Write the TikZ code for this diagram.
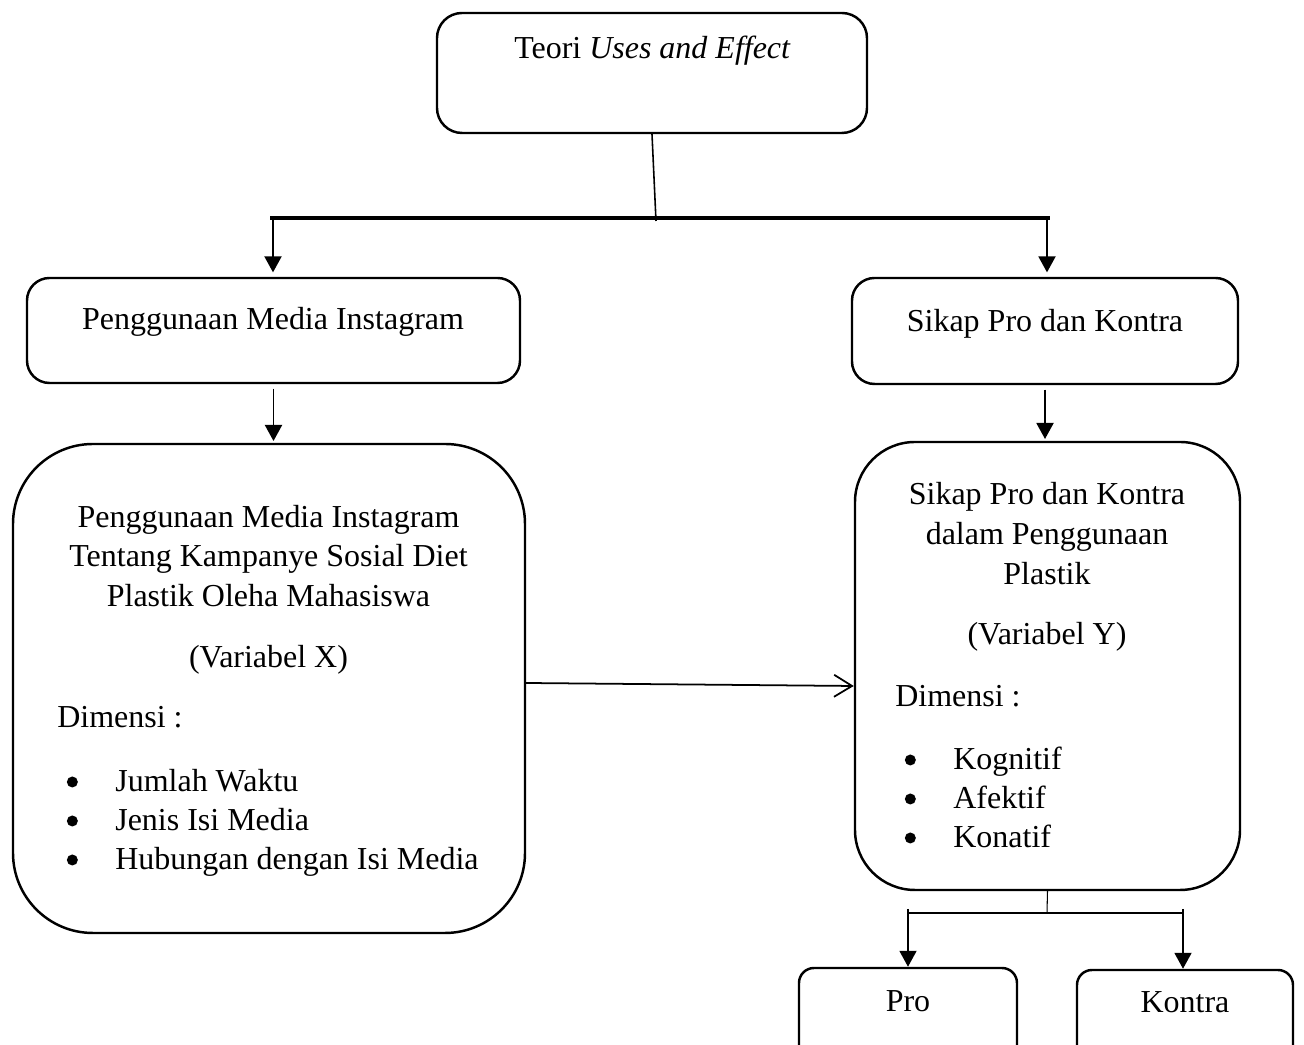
\documentclass[tikz,border=0pt]{standalone}
\usepackage{fontspec}
\setmainfont{Liberation Serif}
\usetikzlibrary{arrows.meta}

\newcommand{\dimbullet}{\makebox[0.97cm][l]{\tikz[baseline=-0.2cm]{\fill (0.11,0) circle (0.11cm);}}}

\begin{document}
\begin{tikzpicture}[
		font=\fontsize{18.2}{22.8}\selectfont,
		box/.style={draw, line width=1.4pt, rounded corners=#1, inner sep=0pt},
		box/.default=0.45cm,
		txt/.style={inner sep=0pt, anchor=base},
		item/.style={inner sep=0pt, anchor=base west},
		arr/.style={line width=1.1pt, -{Triangle[length=0.32cm, width=0.34cm]}},
		branch/.style={line width=0.6pt},
	]
	\useasboundingbox (0,0) rectangle (26.08,20.9);
	\clip (0,0) rectangle (26.08,20.9);

	\node[box=0.5cm, minimum width=8.6cm, minimum height=2.4cm] (teori) at (13.04, 19.44) {};
	\node[txt] (teori-t) at (13.05, 19.72) {Teori \textit{Uses and Effect}};

	\node[box, minimum width=9.86cm, minimum height=2.1cm] (media) at (5.47, 14.29) {};
	\node[txt] (media-t) at (5.46, 14.3) {Penggunaan Media Instagram};
	\node[box, minimum width=7.72cm, minimum height=2.12cm] (sikap) at (20.9, 14.28) {};
	\node[txt] (sikap-t) at (20.9, 14.26) {Sikap Pro dan Kontra};

	% Variabel X
	\node[box=1.6cm, minimum width=10.24cm, minimum height=9.78cm] (varx) at (5.38, 7.13) {};
	\node[txt] (varx-1) at (5.37, 10.34) {Penggunaan Media Instagram};
	\node[txt] (varx-2) at (5.37, 9.56) {Tentang Kampanye Sosial Diet};
	\node[txt] (varx-3) at (5.37, 8.76) {Plastik Oleha Mahasiswa};
	\node[txt] (varx-4) at (5.37, 7.54) {(Variabel X)};
	\node[item] (dimx) at (1.14, 6.34) {Dimensi :};
	\node[item] (dimx-1) at (1.33, 5.06) {\dimbullet Jumlah Waktu};
	\node[item] (dimx-2) at (1.33, 4.28) {\dimbullet Jenis Isi Media};
	\node[item] (dimx-3) at (1.33, 3.50) {\dimbullet Hubungan dengan Isi Media};

	% Variabel Y
	\node[box=1.2cm, minimum width=7.7cm, minimum height=8.96cm] (vary) at (20.95, 7.58) {};
	\node[txt] (vary-1) at (20.94, 10.8) {Sikap Pro dan Kontra};
	\node[txt] (vary-2) at (20.94, 10.0) {dalam Penggunaan};
	\node[txt] (vary-3) at (20.94, 9.2) {Plastik};
	\node[txt] (vary-4) at (20.94, 8.0) {(Variabel Y)};
	\node[item] (dimy) at (17.9, 6.76) {Dimensi :};
	\node[item] (dimy-1) at (18.09, 5.50) {\dimbullet Kognitif};
	\node[item] (dimy-2) at (18.09, 4.72) {\dimbullet Afektif};
	\node[item] (dimy-3) at (18.09, 3.94) {\dimbullet Konatif};

	\node[box=0.3cm, minimum width=4.36cm, minimum height=2.34cm] (pro) at (18.16, 0.37) {};
	\node[txt] (pro-t) at (18.16, 0.66) {Pro};
	\node[box=0.3cm, minimum width=4.32cm, minimum height=2.34cm] (kontra) at (23.7, 0.33) {};
	\node[txt] (kontra-t) at (23.7, 0.64) {Kontra};

	\coordinate (split) at (13.12, 16.48);
	\coordinate (barL) at (5.46, 16.54);
	\coordinate (barR) at (20.94, 16.54);
	\coordinate (fork) at (20.94, 2.64);
	\coordinate (forkL) at (18.16, 2.64);
	\coordinate (forkR) at (23.66, 2.64);

	\draw[line width=0.9pt] (teori.south) -- (split);
	\draw[line width=1.9pt] ([xshift=-0.06cm]barL) -- ([xshift=0.06cm]barR);
	\draw[arr, shorten >=2.5pt] (barL) -- (barL |- media.north);
	\draw[arr, shorten >=2.5pt] (barR) -- (barR |- sikap.north);
	\draw[arr, shorten <=2.5pt, shorten >=1pt] (media.south) -- (media.south |- varx.north);
	\draw[arr, shorten <=2.5pt, shorten >=1pt] (sikap.south) -- (sikap.south |- vary.north);
	\draw[line width=1pt, -{Straight Barb[length=0.36cm, width=0.44cm]}] ([yshift=0.11cm]varx.east) -- ([yshift=-0.4cm]vary.west);

	% Pro / Kontra
	\draw[branch] (vary.south) -- (fork);
	\draw[branch] (forkL) -- (forkR);
	\draw[arr] ([yshift=0.08cm]forkL) -- (pro.north);
	\draw[arr] ([yshift=0.08cm]forkR) -- (forkR |- kontra.north);
\end{tikzpicture}
\end{document}
